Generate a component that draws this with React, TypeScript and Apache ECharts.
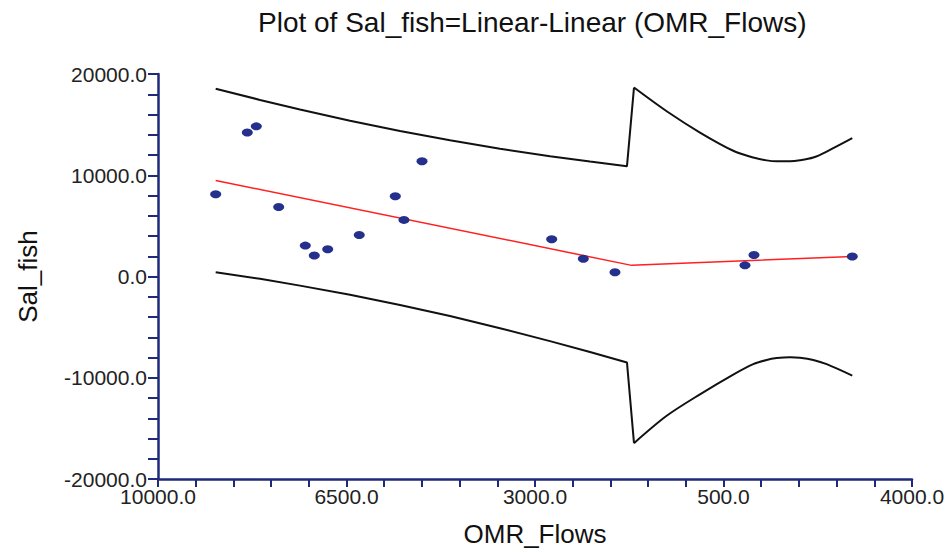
import React, { useEffect, useRef } from "react";
import * as echarts from "echarts";

// Observed points (OMR_Flows, Sal_fish)
const flows = [-8929, -8342, -8175, -7759, -7265, -7098, -6849, -6263, -5594, -5433, -5098, -2690, -2103, -1515, 899, 1066, 2891];
const salFish = [8130, 14220, 14830, 6860, 3050, 2080, 2700, 4100, 7930, 5590, 11390, 3680, 1760, 420, 1100, 2120, 1980];

// Fitted linear-linear line
const fitX = [-8929, -1205, 2891];
const fitY = [9490, 1100, 1980];

// Upper / lower bands, left of the knot
const bandLeftX = [-8929, -8106, -7364, -6435, -5507, -4579, -3650, -2722, -1979, -1292];
const upperLeftY = [18550, 17440, 16490, 15390, 14370, 13450, 12620, 11880, 11350, 10900];
const lowerLeftY = [420, -230, -900, -1800, -2820, -3910, -5110, -6380, -7460, -8500];

// Upper / lower bands, right of the knot
const bandRightX = [-1162, -555, 63, 681, 1053, 1302, 1487, 1734, 1920, 2167, 2416, 2891];
const upperRightY = [18660, 16320, 14220, 12420, 11750, 11470, 11385, 11385, 11480, 11750, 12340, 13660];
const lowerRightY = [-16460, -13760, -11640, -9690, -8660, -8240, -8060, -7970, -8020, -8240, -8660, -9790];

// Axis ticks
const xTickValues = [-10000, -6500, -3000, 500, 4000];
const xTickLabels = ["10000.0", "6500.0", "3000.0", "500.0", "4000.0"];
const yTickLabels = ["-20000.0", "-10000.0", "0.0", "10000.0", "20000.0"];

const X_SHIFT = 10000; // axis ticks start at -10000, step 3500

export default function App() {
  const ref = useRef<HTMLDivElement>(null);
  useEffect(() => {
    if (!ref.current) return;
    const chart = echarts.init(ref.current, null, { renderer: "svg" });
    const sx = (v: number) => v + X_SHIFT;
    const axisColor = "#1f2a7a";
    const font = "'Liberation Sans', Arial, sans-serif";
    const bandStyle = { color: "#111", width: 2 };
    const pts = (xs: number[], ys: number[]) => xs.map((x, i) => [sx(x), ys[i]]);
    chart.setOption({
      animation: false,
      backgroundColor: "#ffffff",
      title: {
        text: "Plot of Sal_fish=Linear-Linear (OMR_Flows)",
        left: 253,
        top: 3,
        textStyle: { fontFamily: font, fontSize: 28, fontWeight: "normal", color: "#111" },
      },
      grid: { left: 158, right: 38, top: 74, bottom: 68 },
      xAxis: {
        type: "value",
        min: sx(xTickValues[0]),
        max: sx(xTickValues[xTickValues.length - 1]),
        interval: 3500,
        name: "OMR_Flows",
        nameLocation: "middle",
        nameGap: 42,
        nameTextStyle: { fontFamily: font, fontSize: 26, color: "#111" },
        axisLine: { show: true, onZero: false, lineStyle: { color: axisColor, width: 2.5 } },
        axisTick: { show: true, length: 8, lineStyle: { color: axisColor, width: 2 } },
        minorTick: { show: true, splitNumber: 5, length: 8, lineStyle: { color: axisColor, width: 2 } },
        splitLine: { show: false },
        axisLabel: {
          fontFamily: font,
          fontSize: 21,
          color: "#222",
          margin: 7,
          showMinLabel: true,
          showMaxLabel: true,
          formatter: (v: number) => {
            const i = xTickValues.findIndex((t) => Math.abs(sx(t) - v) < 1e-6);
            return i >= 0 ? xTickLabels[i] : "";
          },
        },
      },
      yAxis: {
        type: "value",
        min: -20000,
        max: 20000,
        interval: 10000,
        name: "Sal_fish",
        nameLocation: "middle",
        nameGap: 117,
        nameRotate: 90,
        nameTextStyle: { fontFamily: font, fontSize: 26, color: "#111" },
        axisLine: { show: true, onZero: false, lineStyle: { color: axisColor, width: 2.5 } },
        axisTick: { show: true, length: 10, lineStyle: { color: axisColor, width: 2 } },
        minorTick: { show: true, splitNumber: 5, length: 10, lineStyle: { color: axisColor, width: 2 } },
        splitLine: { show: false },
        axisLabel: {
          fontFamily: font,
          fontSize: 21,
          color: "#222",
          margin: 11,
          formatter: (v: number) => {
            const i = Math.round((v + 20000) / 10000);
            return yTickLabels[i] ?? "";
          },
        },
      },
      series: [
        {
          type: "line",
          data: [...pts(bandLeftX, upperLeftY), pts(bandRightX, upperRightY)[0]],
          showSymbol: false,
          lineStyle: bandStyle,
          z: 2,
        },
        {
          type: "line",
          data: pts(bandRightX, upperRightY),
          showSymbol: false,
          smooth: 0.3,
          lineStyle: bandStyle,
          z: 2,
        },
        {
          type: "line",
          data: [...pts(bandLeftX, lowerLeftY), pts(bandRightX, lowerRightY)[0]],
          showSymbol: false,
          lineStyle: bandStyle,
          z: 2,
        },
        {
          type: "line",
          data: pts(bandRightX, lowerRightY),
          showSymbol: false,
          smooth: 0.3,
          lineStyle: bandStyle,
          z: 2,
        },
        {
          type: "line",
          data: pts(fitX, fitY),
          showSymbol: false,
          lineStyle: { color: "#ff2020", width: 1.5 },
          z: 3,
        },
        {
          type: "scatter",
          data: pts(flows, salFish),
          symbol: "circle",
          symbolSize: [11, 8],
          itemStyle: { color: "#25308c", opacity: 1 },
          z: 4,
        },
      ],
    });
    return () => chart.dispose();
  }, []);
  return (
    <div
      ref={ref}
      style={{ position: "fixed", left: 0, top: 0, width: 950, height: 552, background: "#fff" }}
    />
  );
}
